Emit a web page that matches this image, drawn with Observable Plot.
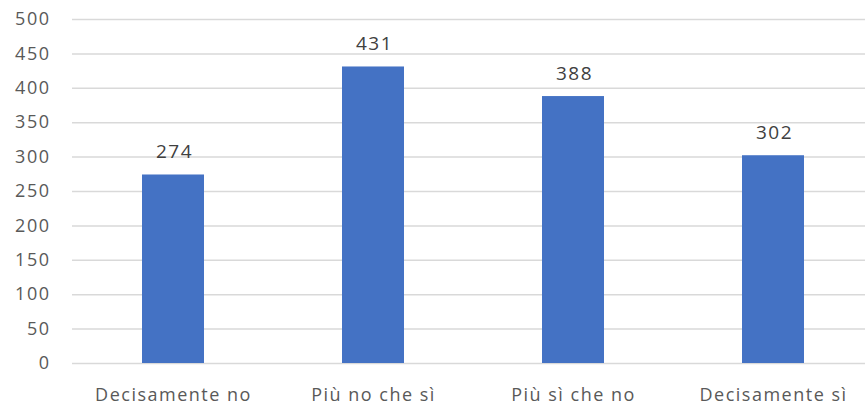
<!DOCTYPE html>
<html>
<head>
<meta charset="utf-8">
<script src="https://cdn.jsdelivr.net/npm/d3@7"></script>
<script src="https://cdn.jsdelivr.net/npm/@observablehq/plot@0.6"></script>
<style>
  html, body { margin: 0; padding: 0; background: #fff; }
  svg text { letter-spacing: 1.5px; }
</style>
</head>
<body>
<div id="chart"></div>
<script>
const categories = ["Decisamente no", "Più no che sì", "Più sì che no", "Decisamente sì"];
const values = [274, 431, 388, 302];
const yTicks = [0, 50, 100, 150, 200, 250, 300, 350, 400, 450, 500];

const data = categories.map((c, i) => ({cat: c, value: values[i]}));

const chart = Plot.plot({
  width: 865,
  height: 409,
  marginTop: 19,
  marginBottom: 46,
  marginLeft: 72,
  marginRight: 0,
  style: {fontFamily: "'Open Sans', sans-serif", fontSize: "18px", color: "#595959", background: "white"},
  x: {domain: categories, range: [72, 873], paddingInner: 0.69, paddingOuter: 0.345, label: null},
  y: {domain: [0, 500], label: null},
  marks: [
    Plot.gridY(yTicks, {stroke: "#d9d9d9", strokeOpacity: 1, strokeWidth: 1.5}),
    Plot.barY(data, {x: "cat", y: "value", fill: "#4472C4"}),
    Plot.text(data, {x: "cat", y: "value", text: d => String(d.value), dy: -23, dx: 1, fill: "#404040", fontSize: 19}),
    Plot.axisY(yTicks, {tickSize: 0, tickPadding: 22, label: null, fill: "#595959"}),
    Plot.axisX({tickSize: 0, tickPadding: 25, label: null, fill: "#595959"})
  ]
});
document.getElementById("chart").appendChild(chart);
</script>
</body>
</html>
